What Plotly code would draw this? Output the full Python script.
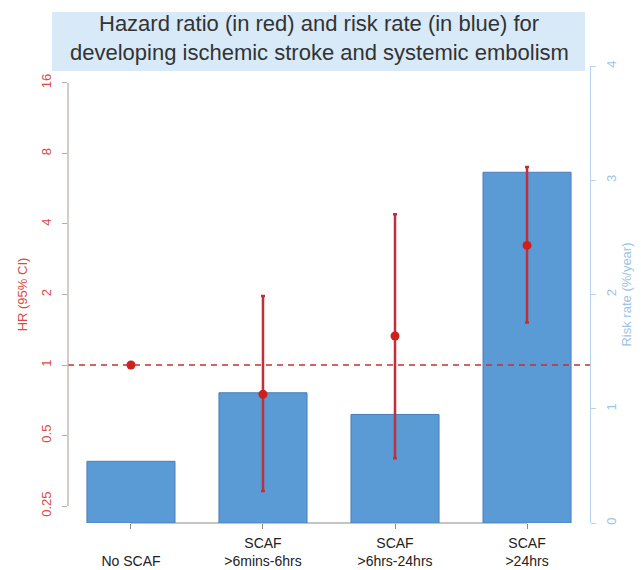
import math
import plotly.graph_objects as go

# ---- data ----
categories = ["No SCAF", "SCAF >6mins-6hrs", "SCAF >6hrs-24hrs", "SCAF >24hrs"]
tick_labels = ["<br>No SCAF", "SCAF<br>>6mins-6hrs", "SCAF<br>>6hrs-24hrs", "SCAF<br>>24hrs"]
risk_rate = [0.54, 1.14, 0.95, 3.07]          # %/year (blue bars, right axis)
hr_point = [1.0, 0.75, 1.33, 3.24]            # hazard ratio (red points, left axis)
hr_lower = [1.0, 0.29, 0.40, 1.52]
hr_upper = [1.0, 1.97, 4.40, 7.00]
hr_ticks = [0.25, 0.5, 1, 2, 4, 8, 16]
risk_ticks = [0, 1, 2, 3, 4]
title_lines = ["Hazard ratio (in red) and risk rate (in blue) for",
               "developing ischemic stroke and systemic embolism"]

# ---- geometry (pixels) ----
W, H = 641, 570
L, R, T, B = 68, 51, 66, 47
PW, PH = W - L - R, H - T - B


def px_x(p):
    return (p - L) / PW


def px_y(p):
    return (H - B - p) / PH


RED = "#d0201c"
RED_TXT = "#d94a45"
BLUE_BAR = "#5b9bd5"
BLUE_TXT = "#9cc3e6"

# log axis padded 4% on both ends, like the base-graphics default
lo, hi = math.log2(hr_ticks[0]), math.log2(hr_ticks[-1])
pad = 0.04 * (hi - lo)
hr_range = [(lo - pad) * math.log10(2), (hi + pad) * math.log10(2)]

fig = go.Figure()

fig.add_trace(go.Bar(
    x=categories, y=risk_rate, yaxis="y", width=0.667,
    marker=dict(color=BLUE_BAR, line=dict(color="#4a7ebb", width=1)),
    hoverinfo="skip", showlegend=False,
))

fig.add_trace(go.Scatter(
    x=categories, y=hr_point, yaxis="y2", mode="markers",
    marker=dict(color=RED, size=9),
    error_y=dict(
        type="data", symmetric=False,
        array=[u - p for u, p in zip(hr_upper, hr_point)],
        arrayminus=[p - l for p, l in zip(hr_point, hr_lower)],
        color="#c0303a", thickness=2.5, width=2,
    ),
    cliponaxis=False, showlegend=False,
))

shapes = [
    # title box
    dict(type="rect", xref="paper", yref="paper",
         x0=px_x(52), x1=px_x(585), y0=px_y(71), y1=px_y(12),
         fillcolor="#d8eaf8", line=dict(width=0), layer="below"),
    # reference line at HR = 1
    dict(type="line", xref="paper", yref="y2", x0=0, x1=1, y0=1, y1=1,
         line=dict(color="#c8302e", width=1.5, dash="6px,5px")),
    # left axis line spanning first to last tick
    dict(type="line", xref="paper", yref="y2", x0=0, x1=0,
         y0=hr_ticks[0], y1=hr_ticks[-1],
         line=dict(color="#b9aaa4", width=1.2)),
    # bottom axis line spanning first to last category
    dict(type="line", xref="x", yref="paper", x0=categories[0], x1=categories[-1],
         y0=0, y1=0, line=dict(color="#8a8a8a", width=1), layer="below"),
]

annotations = [
    dict(xref="paper", yref="paper", x=px_x(319), y=px_y(cy),
         xanchor="center", yanchor="middle", showarrow=False,
         text=line, font=dict(size=22, color="#333"))
    for line, cy in zip(title_lines, [23, 53])
]

fig.update_layout(
    width=W, height=H,
    margin=dict(l=L, r=R, t=T, b=B, autoexpand=False),
    paper_bgcolor="white", plot_bgcolor="white",
    font=dict(family="Liberation Sans, Arial, sans-serif", color="#222"),
    bargap=0.33,
    shapes=shapes,
    annotations=annotations,
    xaxis=dict(
        type="category", range=[-0.477, 3.477], automargin=False,
        tickvals=categories, ticktext=tick_labels,
        ticks="outside", ticklen=5, tickcolor="#8a8a8a",
        showline=False, showgrid=False, zeroline=False,
        tickfont=dict(size=14, color="#222"),
        ticklabelstandoff=2,
    ),
    yaxis=dict(
        side="right", range=[0, 4], tickvals=risk_ticks, automargin=False,
        ticks="outside", ticklen=5, tickcolor="#b6d3ee",
        showline=True, linecolor="#b6d3ee", linewidth=1.2,
        showgrid=False, zeroline=False, tickangle=-90,
        tickfont=dict(size=13, color=BLUE_TXT),
        title=dict(text="Risk rate (%/year)", font=dict(size=13, color=BLUE_TXT), standoff=2),
        ticklabelstandoff=4,
    ),
    yaxis2=dict(
        type="log", overlaying="y", side="left", range=hr_range, automargin=False,
        tickvals=hr_ticks, ticktext=[f"{v:g}" for v in hr_ticks],
        ticks="outside", ticklen=5, tickcolor="#b9aaa4",
        showline=False, showgrid=False, zeroline=False, tickangle=-90,
        tickfont=dict(size=13, color=RED_TXT),
        title=dict(text="HR (95% CI)", font=dict(size=13, color=RED_TXT), standoff=8),
        ticklabelstandoff=6,
    ),
)

fig.write_html("out.html")
